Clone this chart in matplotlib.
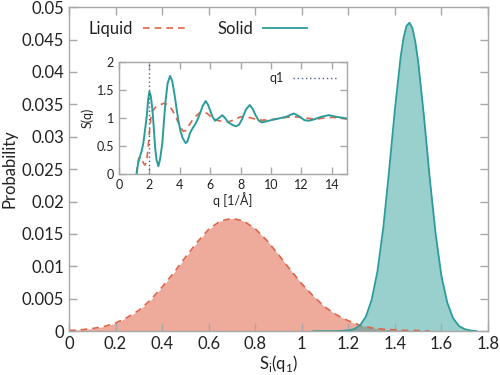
import matplotlib
matplotlib.use('Agg')
import matplotlib.pyplot as plt

plt.rcParams['font.family'] = ['Lato', 'DejaVu Sans']

# Distribution of S_i(q1) - liquid
liqX = [0.00, 0.05, 0.10, 0.15, 0.20, 0.25, 0.30, 0.35, 0.40, 0.45, 0.50, 0.55,
        0.60, 0.65, 0.70, 0.75, 0.80, 0.85, 0.90, 0.95, 1.00, 1.05, 1.10, 1.15,
        1.20, 1.25, 1.30, 1.35, 1.40, 1.45, 1.50, 1.55]
liqP = [0.0001, 0.0002, 0.0004, 0.0007, 0.00125, 0.0021, 0.0032, 0.0048, 0.0068,
        0.0090, 0.0114, 0.0137, 0.0157, 0.0170, 0.0174, 0.0170, 0.0158, 0.0140,
        0.0118, 0.0095, 0.0073, 0.0054, 0.0037, 0.0025, 0.0016, 0.0009, 0.0005,
        0.0003, 0.0002, 0.0001, 0.0001, 0.0]

# Distribution of S_i(q1) - solid
solX = [1.050, 1.100, 1.150, 1.200, 1.225, 1.250, 1.275, 1.300, 1.325, 1.350,
        1.375, 1.400, 1.425, 1.4375, 1.450, 1.4625, 1.475, 1.4875, 1.500, 1.525,
        1.550, 1.575, 1.600, 1.625, 1.650, 1.675, 1.700, 1.725, 1.750]
solP = [0.0, 0.0, 0.00001, 0.0001, 0.0003, 0.0009, 0.0022, 0.0048, 0.0092, 0.0159,
        0.0247, 0.0342, 0.0424, 0.0453, 0.0471, 0.0476, 0.0468, 0.0447, 0.0416,
        0.0331, 0.0235, 0.0150, 0.0085, 0.0044, 0.0020, 0.0008, 0.0003, 0.0001, 0.0]

# Structure factor S(q) for the inset
solQ = [1.16, 1.25, 1.38, 1.5, 1.6, 1.72, 1.82, 1.92, 2.0, 2.1, 2.2, 2.3, 2.37,
        2.47, 2.59, 2.7, 2.85, 2.95, 3.07, 3.2, 3.36, 3.5, 3.64, 3.78, 3.9, 4.05,
        4.19, 4.39, 4.5, 4.67, 4.85, 5.0, 5.15, 5.33, 5.5, 5.7, 5.85, 5.99, 6.15,
        6.32, 6.54, 6.8, 7.0, 7.2, 7.5, 7.7, 7.9, 8.1, 8.35, 8.6, 8.8, 9.0, 9.2,
        9.4, 9.7, 10.0, 10.5, 11.0, 11.5, 11.9, 12.2, 12.5, 12.9, 13.3, 13.8,
        14.3, 15.0]
solS = [0.0, 0.18, 0.31, 0.42, 0.55, 0.8, 1.02, 1.33, 1.47, 1.38, 1.14, 0.78, 0.49,
        0.25, 0.14, 0.26, 0.55, 0.92, 1.32, 1.62, 1.75, 1.66, 1.44, 1.18, 0.96,
        0.76, 0.64, 0.55, 0.58, 0.73, 0.82, 0.88, 0.96, 1.08, 1.21, 1.30, 1.24,
        1.14, 1.02, 0.95, 0.99, 1.05, 0.99, 0.92, 0.87, 0.85, 0.88, 0.98, 1.15,
        1.23, 1.16, 1.04, 0.95, 0.92, 0.94, 0.96, 0.99, 1.02, 1.08, 1.02, 0.96,
        0.95, 0.98, 1.02, 1.05, 1.02, 0.99]

liqQ = [1.15, 1.22, 1.3, 1.4, 1.5, 1.6, 1.7, 1.8, 1.9, 2.0, 2.1, 2.2, 2.4, 2.7,
        2.92, 3.1, 3.36, 3.55, 3.68, 3.85, 4.0, 4.23, 4.4, 4.56, 4.8, 5.0, 5.3,
        5.55, 5.8, 6.1, 6.54, 7.2, 7.6, 8.0, 8.4, 8.8, 9.4, 10.0, 10.5, 11.0,
        11.5, 12.0, 12.5, 13.0, 13.5, 14.0, 14.5, 15.0]
liqS = [0.0, 0.18, 0.28, 0.31, 0.26, 0.2, 0.16, 0.2, 0.42, 0.75, 1.0, 1.12, 1.19,
        1.23, 1.26, 1.25, 1.2, 1.12, 1.05, 0.95, 0.85, 0.76, 0.78, 0.85, 0.95,
        1.02, 1.09, 1.11, 1.08, 1.01, 0.95, 0.93, 0.97, 1.02, 1.02, 0.99, 0.96,
        0.97, 0.99, 1.01, 1.02, 1.01, 0.99, 0.98, 1.0, 1.01, 1.0, 0.98]

q1 = 2.0

mainTicksX = [0, 0.2, 0.4, 0.6, 0.8, 1, 1.2, 1.4, 1.6, 1.8]
mainTicksY = [0, 0.005, 0.01, 0.015, 0.02, 0.025, 0.03, 0.035, 0.04, 0.045, 0.05]
insetTicksX = [0, 2, 4, 6, 8, 10, 12, 14]
insetTicksY = [0, 0.5, 1, 1.5, 2]

liqColor = '#e0644a'
solColor = '#2a9d9a'
frameColor = '#a8a8a8'
textColor = '#222222'


def style_axes(ax, labelsize):
    for s in ax.spines.values():
        s.set_color(frameColor)
        s.set_linewidth(1.0)
    ax.tick_params(direction='in', top=True, right=True, color=frameColor,
                   labelcolor=textColor, labelsize=labelsize, width=1.0)


fig = plt.figure(figsize=(5, 3.75), dpi=100)
ax = fig.add_axes([0.138, 0.117, 0.838, 0.864])

# Liquid
ax.fill_between(liqX, liqP, 0, color=liqColor, alpha=0.55, linewidth=0)
ax.plot(liqX, liqP, color=liqColor, lw=1.2, ls=(0, (4, 3)), label='Liquid')
# Solid
ax.fill_between(solX, solP, 0, color=solColor, alpha=0.48, linewidth=0)
ax.plot(solX, solP, color=solColor, lw=1.3, label='Solid')

ax.set_xlim(0, 1.8)
ax.set_ylim(0, 0.05)
ax.set_xticks(mainTicksX)
ax.set_xticklabels(['0', '0.2', '0.4', '0.6', '0.8', '1', '1.2', '1.4', '1.6', '1.8'])
ax.set_yticks(mainTicksY)
ax.set_yticklabels(['0', '0.005', '0.01', '0.015', '0.02', '0.025', '0.03',
                    '0.035', '0.04', '0.045', '0.05'])
style_axes(ax, 12)
ax.tick_params(length=6)
ax.set_xlabel(r'S$_\mathregular{i}$(q$_\mathregular{1}$)', fontsize=12,
              color=textColor, labelpad=1)
ax.set_ylabel('Probability', fontsize=12, color=textColor, labelpad=3)
ax.legend(loc='upper left', ncol=2, frameon=False, markerfirst=False,
          fontsize=12, handlelength=2.6, handletextpad=0.6, columnspacing=1.9,
          bbox_to_anchor=(0.01, 1.005), labelcolor=textColor)

# Inset with S(q)
ins = fig.add_axes([0.238, 0.536, 0.456, 0.299])
ins.plot(liqQ, liqS, color=liqColor, lw=1.2, ls=(0, (4, 3)))
ins.plot(solQ, solS, color=solColor, lw=1.4)
ins.axvline(q1, color='#4a5d98', lw=1.0, ls=(0, (1, 2)), label='q1')
ins.set_xlim(0, 15)
ins.set_ylim(0, 2)
ins.set_xticks(insetTicksX)
ins.set_yticks(insetTicksY)
ins.set_yticklabels(['0', '0.5', '1', '1.5', '2'])
style_axes(ins, 9)
ins.tick_params(length=5)
ins.set_xlabel('q [1/Å]', fontsize=9, color=textColor, labelpad=1)
ins.set_ylabel('S(q)', fontsize=9, color=textColor, labelpad=2)
ins.legend(loc='upper right', frameon=False, markerfirst=False, fontsize=9,
           handlelength=3.5, labelcolor=textColor, borderaxespad=0.4)

fig.savefig('out.png', dpi=100)
